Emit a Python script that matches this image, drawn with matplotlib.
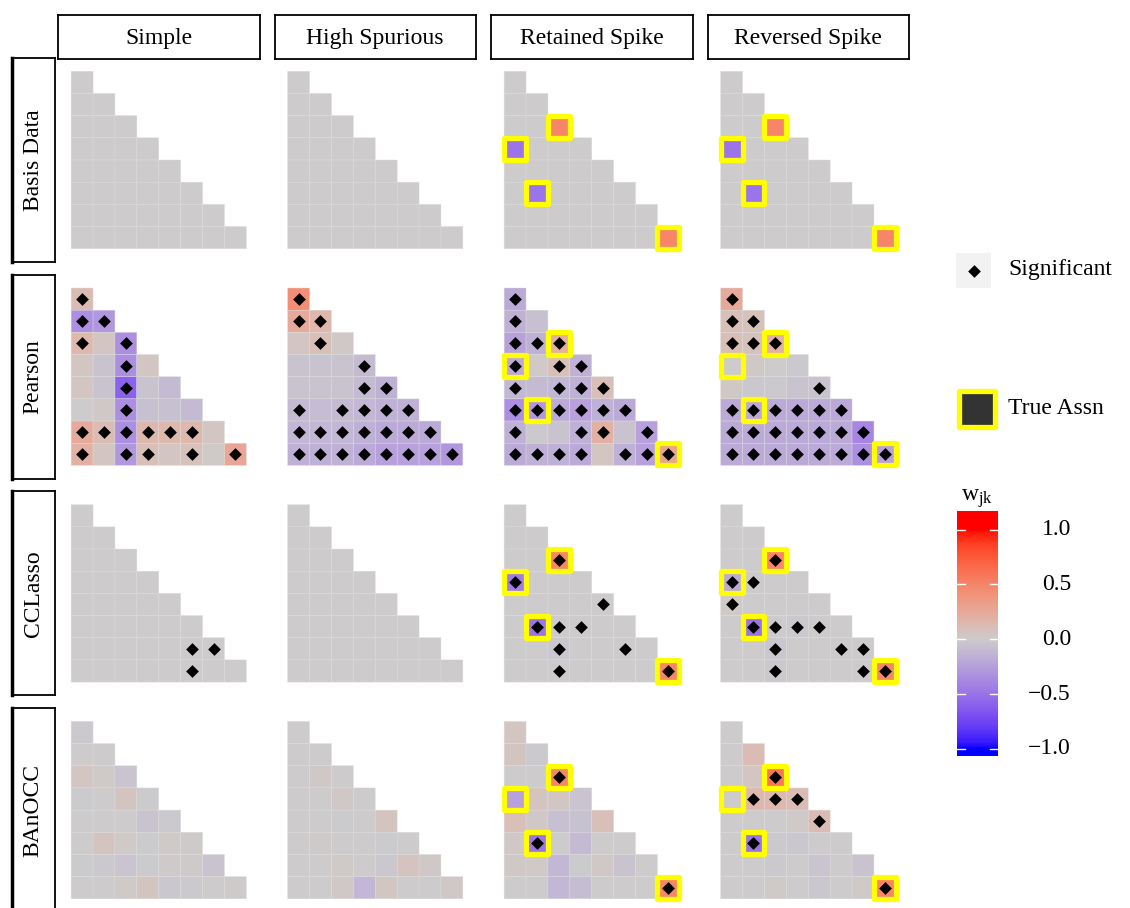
import numpy as np
import matplotlib
matplotlib.use('Agg')
import matplotlib.pyplot as plt
from matplotlib.colors import ListedColormap, Normalize
from matplotlib.patches import Rectangle

plt.rcParams['font.family'] = ['Liberation Serif', 'DejaVu Serif']
FS = 17

# facet labels
methods = ['Basis Data', 'Pearson', 'CCLasso', 'BAnOCC']
scenarios = ['Simple', 'High Spurious', 'Retained Spike', 'Reversed Spike']

# true associations (row, col) for the spike scenarios
true_cells = [(2, 2), (3, 0), (5, 1), (7, 7)]
has_truth = [False, False, True, True]

# lower triangle values, row by row
zero_tri = [[0.0] * (r + 1) for r in range(8)]

basis_spike = [[0.0],
               [0.0, 0.0],
               [0.0, 0.0, 0.5],
               [-0.5, 0.0, 0.0, 0.0],
               [0.0, 0.0, 0.0, 0.0, 0.0],
               [0.0, -0.5, 0.0, 0.0, 0.0, 0.0],
               [0.0, 0.0, 0.0, 0.0, 0.0, 0.0, 0.0],
               [0.0, 0.0, 0.0, 0.0, 0.0, 0.0, 0.0, 0.5]]

pearson_simple = [[0.12],
                  [-0.35, -0.3],
                  [0.15, 0.05, -0.35],
                  [0.05, -0.05, -0.35, 0.05],
                  [0.05, -0.05, -0.6, -0.05, -0.1],
                  [0.0, 0.03, -0.35, -0.07, -0.07, -0.1],
                  [0.25, 0.12, -0.35, 0.15, 0.15, 0.15, 0.05],
                  [0.2, 0.05, -0.3, 0.1, 0.05, 0.08, 0.02, 0.27]]
pearson_high = [[0.45],
                [0.25, 0.15],
                [0.05, 0.1, 0.03],
                [-0.05, -0.05, -0.05, -0.1],
                [-0.05, -0.05, -0.05, -0.1, -0.15],
                [-0.1, -0.08, -0.1, -0.12, -0.15, -0.15],
                [-0.12, -0.12, -0.12, -0.15, -0.2, -0.2, -0.2],
                [-0.15, -0.15, -0.15, -0.2, -0.25, -0.25, -0.25, -0.3]]
pearson_retained = [[-0.2],
                    [-0.15, -0.07],
                    [-0.25, -0.15, 0.2],
                    [-0.2, 0.02, 0.1, -0.15],
                    [-0.12, -0.1, -0.12, -0.15, 0.1],
                    [-0.35, -0.3, -0.2, -0.25, -0.15, -0.2],
                    [-0.15, -0.02, -0.05, -0.15, 0.2, -0.05, -0.25],
                    [-0.2, -0.15, -0.15, -0.2, 0.05, -0.15, -0.25, 0.3]]
pearson_reversed = [[0.25],
                    [0.1, 0.08],
                    [0.1, 0.08, 0.2],
                    [0.0, 0.03, 0.0, -0.02],
                    [0.03, -0.03, -0.02, -0.05, -0.05],
                    [-0.2, -0.2, -0.2, -0.2, -0.2, -0.2],
                    [-0.2, -0.2, -0.2, -0.2, -0.2, -0.2, -0.4],
                    [-0.2, -0.2, -0.2, -0.2, -0.2, -0.2, -0.35, -0.25]]

cclasso_retained = [[0.0],
                    [0.0, 0.0],
                    [0.0, 0.0, 0.5],
                    [-0.45, 0.0, 0.0, 0.0],
                    [0.0, 0.0, 0.0, 0.0, 0.0],
                    [0.0, -0.5, 0.0, 0.0, 0.0, 0.0],
                    [0.0, 0.0, -0.03, 0.0, 0.0, 0.0, 0.0],
                    [0.0, 0.0, 0.0, 0.0, 0.0, 0.0, 0.0, 0.5]]
cclasso_reversed = [[0.0],
                    [0.0, 0.0],
                    [0.0, 0.0, 0.5],
                    [-0.2, 0.0, 0.0, 0.0],
                    [0.02, 0.0, 0.0, 0.0, 0.0],
                    [0.0, -0.5, 0.0, -0.02, 0.0, 0.0],
                    [0.0, 0.0, -0.03, 0.0, 0.0, 0.0, 0.0],
                    [0.0, 0.0, -0.02, 0.0, 0.0, 0.0, 0.0, 0.5]]

banocc_simple = [[-0.02],
                 [0.0, 0.0],
                 [0.05, 0.02, -0.04],
                 [-0.01, 0.0, 0.06, -0.01],
                 [0.0, 0.0, 0.0, -0.05, -0.02],
                 [0.0, 0.06, 0.02, -0.01, 0.02, 0.01],
                 [-0.01, -0.02, -0.04, -0.01, 0.01, 0.01, -0.05],
                 [0.0, 0.0, 0.02, 0.06, -0.03, -0.02, 0.0, 0.01]]
banocc_high = [[0.0],
               [0.0, 0.0],
               [0.0, 0.03, 0.0],
               [0.0, 0.0, 0.03, 0.0],
               [0.0, 0.0, -0.01, 0.0, 0.06],
               [0.0, 0.01, 0.0, 0.0, -0.01, 0.0],
               [0.0, 0.0, 0.02, 0.0, -0.03, 0.07, 0.03],
               [0.0, 0.0, 0.03, -0.12, 0.04, 0.0, 0.0, 0.03]]
banocc_retained = [[0.05],
                   [0.06, -0.02],
                   [0.0, 0.0, 0.5],
                   [-0.25, 0.06, 0.04, -0.04],
                   [0.1, 0.03, -0.07, -0.06, 0.1],
                   [0.03, -0.5, 0.0, -0.1, 0.0, 0.0],
                   [0.03, 0.02, -0.12, -0.01, 0.03, -0.05, 0.0],
                   [0.0, 0.0, -0.12, -0.08, 0.0, 0.0, 0.0, 0.5]]
banocc_reversed = [[0.0],
                   [0.0, 0.12],
                   [0.0, 0.05, 0.6],
                   [0.0, 0.15, 0.15, 0.12],
                   [0.0, 0.0, 0.0, 0.02, 0.12],
                   [0.0, -0.5, -0.02, -0.03, 0.0, 0.0],
                   [0.0, 0.0, -0.02, 0.0, -0.04, 0.0, -0.05],
                   [0.0, 0.0, 0.02, 0.0, -0.03, 0.0, 0.02, 0.5]]

values = [[zero_tri, zero_tri, basis_spike, basis_spike],
          [pearson_simple, pearson_high, pearson_retained, pearson_reversed],
          [zero_tri, zero_tri, cclasso_retained, cclasso_reversed],
          [banocc_simple, banocc_high, banocc_retained, banocc_reversed]]

# significant cells (row, col)
sig_pearson_simple = [(0, 0), (1, 0), (1, 1), (2, 0), (2, 2), (3, 2), (4, 2), (5, 2),
                      (6, 0), (6, 1), (6, 2), (6, 3), (6, 4), (6, 5),
                      (7, 0), (7, 2), (7, 3), (7, 5), (7, 7)]
sig_pearson_high = [(0, 0), (1, 0), (1, 1), (2, 1), (3, 3), (4, 3), (4, 4),
                    (5, 0), (5, 2), (5, 3), (5, 4), (5, 5)] + \
                   [(6, c) for c in range(7)] + [(7, c) for c in range(8)]
sig_pearson_retained = [(0, 0), (1, 0), (2, 0), (2, 1), (2, 2), (3, 0), (3, 2), (3, 3),
                        (4, 0), (4, 2), (4, 3), (4, 4),
                        (5, 0), (5, 1), (5, 2), (5, 3), (5, 4), (5, 5),
                        (6, 0), (6, 3), (6, 4), (6, 6),
                        (7, 0), (7, 1), (7, 2), (7, 3), (7, 5), (7, 6), (7, 7)]
sig_pearson_reversed = [(0, 0), (1, 0), (1, 1), (2, 0), (2, 1), (2, 2), (4, 4)] + \
                       [(5, c) for c in range(6)] + [(6, c) for c in range(7)] + \
                       [(7, c) for c in range(8)]
sig_cclasso_simple = [(6, 5), (6, 6), (7, 5)]
sig_cclasso_retained = [(2, 2), (3, 0), (4, 4), (5, 1), (5, 2), (5, 3),
                        (6, 2), (6, 5), (7, 2), (7, 7)]
sig_cclasso_reversed = [(2, 2), (3, 0), (3, 1), (4, 0), (5, 1), (5, 2), (5, 3), (5, 4),
                        (6, 2), (6, 5), (6, 6), (7, 2), (7, 6), (7, 7)]
sig_banocc_retained = [(2, 2), (5, 1), (7, 7)]
sig_banocc_reversed = [(2, 2), (3, 1), (3, 2), (3, 3), (4, 4), (5, 1), (7, 7)]

significant = [[[], [], [], []],
               [sig_pearson_simple, sig_pearson_high, sig_pearson_retained, sig_pearson_reversed],
               [sig_cclasso_simple, [], sig_cclasso_retained, sig_cclasso_reversed],
               [[], [], sig_banocc_retained, sig_banocc_reversed]]

cbar_ticks = [1.0, 0.5, 0.0, -0.5, -1.0]


# blue - grey80 - red gradient interpolated in Lab space (like ggplot)
def to_lab(rgb):
    c = np.where(rgb <= 0.04045, rgb / 12.92, ((rgb + 0.055) / 1.055) ** 2.4)
    M = np.array([[0.4124, 0.3576, 0.1805], [0.2126, 0.7152, 0.0722], [0.0193, 0.1192, 0.9505]])
    xyz = (M @ c) / np.array([0.95047, 1.0, 1.08883])
    f = np.where(xyz > 0.008856, np.cbrt(xyz), 7.787 * xyz + 16 / 116)
    return np.array([116 * f[1] - 16, 500 * (f[0] - f[1]), 200 * (f[1] - f[2])])


def from_lab(lab):
    fy = (lab[0] + 16) / 116
    f = np.array([fy + lab[1] / 500, fy, fy - lab[2] / 200])
    xyz = np.where(f ** 3 > 0.008856, f ** 3, (f - 16 / 116) / 7.787) * np.array([0.95047, 1.0, 1.08883])
    Mi = np.array([[3.2406, -1.5372, -0.4986], [-0.9689, 1.8758, 0.0415], [0.0557, -0.2040, 1.0570]])
    c = Mi @ xyz
    c = np.where(c <= 0.0031308, 12.92 * c, 1.055 * np.clip(c, 0, None) ** (1 / 2.4) - 0.055)
    return np.clip(c, 0, 1)


low, mid, high = [to_lab(np.array(c)) for c in [(0, 0, 1), (0.8, 0.8, 0.8), (1, 0, 0)]]
cols = []
for t in np.linspace(0, 1, 256):
    if t < 0.5:
        lab = low + (mid - low) * (t / 0.5)
    else:
        lab = mid + (high - mid) * ((t - 0.5) / 0.5)
    cols.append(from_lab(lab))
cmap = ListedColormap(cols)
norm = Normalize(-1, 1)

W, H = 1130, 908
fig = plt.figure(figsize=(W / 100, H / 100), dpi=100)


def px_axes(x0, y0, x1, y1):
    return fig.add_axes([x0 / W, 1 - y1 / H, (x1 - x0) / W, (y1 - y0) / H])


col_left = [58, 274.5, 491, 707.5]
row_top = [58, 274.7, 491.4, 708.1]
pw, ph = 201.5, 204

for i in range(4):
    for j in range(4):
        ax = px_axes(col_left[j], row_top[i], col_left[j] + pw, row_top[i] + ph)
        tri = values[i][j]
        mat = np.full((8, 8), np.nan)
        for r, row in enumerate(tri):
            mat[r, :len(row)] = row
        ax.pcolor(np.arange(9) - 0.5, np.arange(9) - 0.5, np.ma.masked_invalid(mat),
                  cmap=cmap, norm=norm, edgecolors='#dcdcdc', linewidth=0.3)
        if has_truth[j]:
            for r, c in true_cells:
                ax.add_patch(Rectangle((c - 0.5, r - 0.5), 1, 1, facecolor='none',
                                       edgecolor='#ffff00', lw=3.8, joinstyle='round', zorder=3))
        sig = significant[i][j]
        if sig:
            ax.scatter([c for r, c in sig], [r for r, c in sig], marker='D', s=42,
                       color='black', linewidths=0, zorder=4)
        ax.set_xlim(-1.1, 8.1)
        ax.set_ylim(8.1, -1.1)
        ax.axis('off')

# column strips
for j, name in enumerate(scenarios):
    sax = px_axes(col_left[j], 15, col_left[j] + pw, 58.5)
    sax.set_xticks([])
    sax.set_yticks([])
    for s in sax.spines.values():
        s.set_linewidth(1.3)
    sax.text(0.5, 0.47, name, ha='center', va='center', fontsize=FS, transform=sax.transAxes)

# row strips
for i, name in enumerate(methods):
    sax = px_axes(12, row_top[i], 54.5, row_top[i] + ph)
    sax.set_xticks([])
    sax.set_yticks([])
    for s in sax.spines.values():
        s.set_linewidth(1.3)
    sax.spines['left'].set_linewidth(2.5)
    sax.text(0.5, 0.5, name, ha='center', va='center', fontsize=FS, rotation=90,
             transform=sax.transAxes)

# legend: Significant
kax = px_axes(956, 253, 991, 288)
kax.add_patch(Rectangle((0, 0), 1, 1, color='#f2f2f2'))
kax.scatter([0.5], [0.5], marker='D', s=42, color='black', linewidths=0)
kax.set_xlim(0, 1)
kax.set_ylim(0, 1)
kax.axis('off')
fig.text(1008 / W, 1 - 270 / H, 'Significant', fontsize=FS, va='center')

# legend: True Assn
kax = px_axes(955, 387, 999, 431)
kax.add_patch(Rectangle((0.1, 0.1), 0.8, 0.8, facecolor='#333333', edgecolor='#ffff00',
                        lw=3.8, joinstyle='round'))
kax.set_xlim(0, 1)
kax.set_ylim(0, 1)
kax.axis('off')
fig.text(1008 / W, 1 - 409 / H, 'True Assn', fontsize=FS, va='center')

# colorbar
lo, hi = -1.064, 1.17
cax = px_axes(957, 511, 998, 756)
grad = np.linspace(lo, hi, 300).reshape(-1, 1)
cax.imshow(grad, cmap=cmap, norm=norm, aspect='auto', origin='lower',
           extent=[0, 1, lo, hi], interpolation='bilinear')
cax.set_xlim(0, 1)
cax.set_ylim(lo, hi)
cax.axis('off')
for t in cbar_ticks:
    cax.plot([0, 0.2], [t, t], color='white', lw=1)
    cax.plot([0.8, 1], [t, t], color='white', lw=1)
    lab = ('%.1f' % t).replace('-', '\u2212')
    cax.text(2.78, t, lab, ha='right', va='center', fontsize=FS,
             transform=cax.get_yaxis_transform())
fig.text(977 / W, 1 - 499 / H, r'$\mathregular{w_{jk}}$', fontsize=FS, ha='center', va='center')

fig.savefig('out.png', dpi=100)
